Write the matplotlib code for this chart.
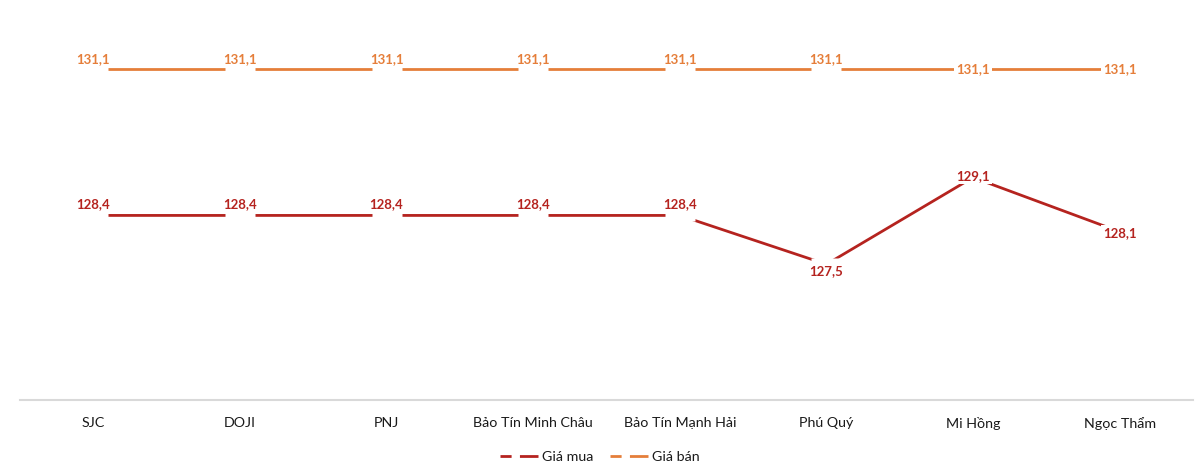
import matplotlib.pyplot as plt
from matplotlib.lines import Line2D

# Dữ liệu giá vàng (triệu đồng/lượng)
hang = ['SJC', 'DOJI', 'PNJ', 'Bảo Tín Minh Châu', 'Bảo Tín Mạnh Hải',
        'Phú Quý', 'Mi Hồng', 'Ngọc Thẩm']
gia_mua = [128.4, 128.4, 128.4, 128.4, 128.4, 127.5, 129.1, 128.1]
gia_ban = [131.1, 131.1, 131.1, 131.1, 131.1, 131.1, 131.1, 131.1]

# vi tri nhan (offset theo points)
off_mua = [8, 8, 8, 8, 8, -5, 1, -1]
off_ban = [7, 7, 7, 7, 7, 7, 0, 0]

mau_mua = '#B5231F'
mau_ban = '#E57E3A'

plt.rcParams['font.family'] = ['Lato', 'DejaVu Sans']

fig = plt.figure(figsize=(12, 4.69), dpi=100)
ax = fig.add_axes([20 / 1200, 69 / 469, 1173 / 1200, 380 / 469])

x = list(range(len(hang)))
# o trang che duong tai diem (giong nhan du lieu Excel)
o_che = [(-1, -0.4), (1, -0.4), (1, 0.4), (-1, 0.4), (-1, -0.4)]
ax.plot(x, gia_mua, color=mau_mua, lw=2, zorder=2)
ax.plot(x, gia_ban, color=mau_ban, lw=2, zorder=2)
ax.plot(x, gia_mua, ls='none', marker=o_che, ms=21, mfc='white', mec='none', zorder=3)
ax.plot(x, gia_ban, ls='none', marker=o_che, ms=21, mfc='white', mec='none', zorder=3)

for i in x:
    ax.annotate(f'{gia_mua[i]:.1f}'.replace('.', ','), (i, gia_mua[i]),
                xytext=(0, off_mua[i]), textcoords='offset points',
                ha='center', va='center', fontsize=9.5, fontweight='bold',
                color=mau_mua, zorder=4,
                bbox=dict(boxstyle='square,pad=0.15', fc='white', ec='none'))
    ax.annotate(f'{gia_ban[i]:.1f}'.replace('.', ','), (i, gia_ban[i]),
                xytext=(0, off_ban[i]), textcoords='offset points',
                ha='center', va='center', fontsize=9.5, fontweight='bold',
                color=mau_ban, zorder=4,
                bbox=dict(boxstyle='square,pad=0.15', fc='white', ec='none'))

ax.set_xlim(-0.5, len(hang) - 0.5)
ax.set_ylim(125, 132)
ax.set_xticks(x)
ax.set_xticklabels(hang, fontsize=10.3, color='#1a1a1a')
ax.tick_params(axis='x', length=0, pad=12)
ax.set_yticks([])
for s in ['top', 'right', 'left']:
    ax.spines[s].set_visible(False)
ax.spines['bottom'].set_color('#D9D9D9')
ax.spines['bottom'].set_linewidth(1.5)

handles = [Line2D([], [], color=mau_mua, lw=2, dashes=(4, 3, 7, 0)),
           Line2D([], [], color=mau_ban, lw=2, dashes=(4, 3, 7, 0))]
fig.legend(handles, ['Giá mua', 'Giá bán'], loc='center', bbox_to_anchor=(0.5, 12 / 469),
           ncol=2, frameon=False, fontsize=10.3, handlelength=2.6, handletextpad=0.3,
           columnspacing=1.2, labelcolor='#1a1a1a')

fig.savefig('out.png', dpi=100, facecolor='white')
